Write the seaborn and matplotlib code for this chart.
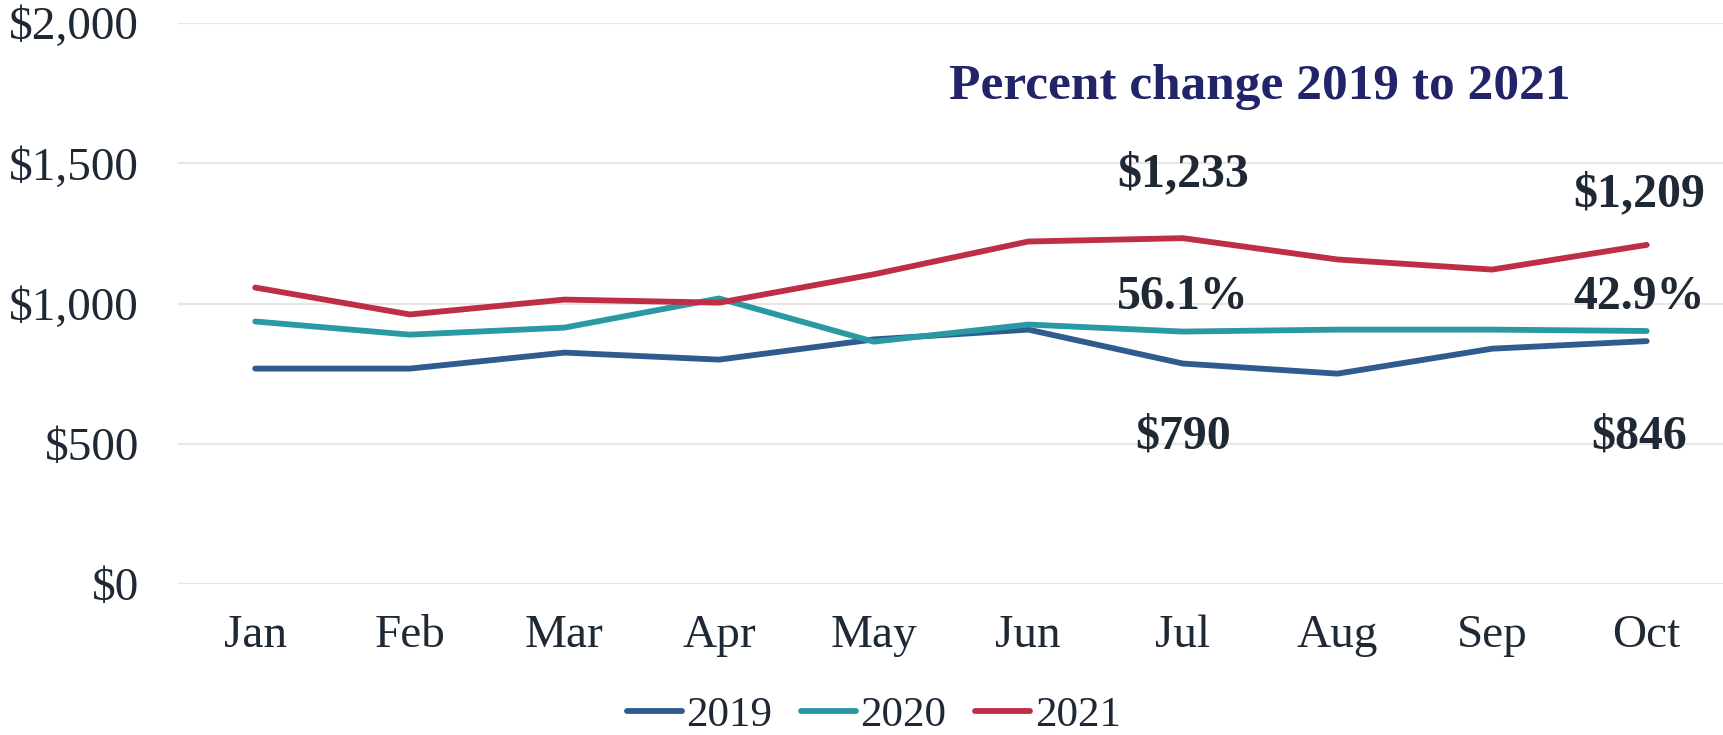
import numpy as np
import pandas as pd
import seaborn as sns
import matplotlib.pyplot as plt
from matplotlib.ticker import FuncFormatter

# monthly values
months = ['Jan', 'Feb', 'Mar', 'Apr', 'May', 'Jun', 'Jul', 'Aug', 'Sep', 'Oct']
vals_2019 = [768, 768, 825, 800, 872, 907, 786, 750, 839, 866]
vals_2020 = [936, 889, 914, 1018, 864, 925, 900, 907, 907, 902]
vals_2021 = [1057, 961, 1014, 1003, 1104, 1221, 1233, 1157, 1121, 1209]
years = ['2019', '2020', '2021']

# annotation texts
jul_labels = ['$1,233', '56.1%', '$790']
oct_labels = ['$1,209', '42.9%', '$846']
title_txt = 'Percent change 2019 to 2021'

colors = {'2019': '#2F5B8F', '2020': '#2A99A2', '2021': '#BE2E46'}
txt_color = '#1E2935'

df = pd.DataFrame({
    'month': months * 3,
    'x': list(range(len(months))) * 3,
    'value': vals_2019 + vals_2020 + vals_2021,
    'year': [y for y in years for _ in months],
})

sns.set_style('white')
plt.rcParams['font.family'] = ['Liberation Serif', 'DejaVu Serif']

fig = plt.figure(figsize=(17.24, 7.35), dpi=100)
ax = fig.add_axes([0.1032, 0.2054, 0.8968, 0.7633])

sns.lineplot(data=df, x='x', y='value', hue='year', palette=colors,
             linewidth=4.2, ax=ax, sort=False)

ax.set_xlim(-0.5, 9.5)
ax.set_ylim(0, 2000)
ax.set_yticks([0, 500, 1000, 1500, 2000])
ax.yaxis.set_major_formatter(FuncFormatter(lambda v, p: '${:,.0f}'.format(v)))
ax.set_xticks(range(len(months)))
ax.set_xticklabels(months)
ax.tick_params(axis='both', labelsize=34, colors=txt_color, length=0)
ax.tick_params(axis='y', pad=28)
ax.tick_params(axis='x', pad=22)
ax.set_xlabel('')
ax.set_ylabel('')
ax.grid(axis='y', color='#E6E6E6', linewidth=1.5)
ax.set_axisbelow(True)
for s in ax.spines.values():
    s.set_visible(False)

# annotations
ax.text(6.5, 1771, title_txt, ha='center', va='center', fontsize=37,
        fontweight='bold', color='#22246A')
for xpos, labs in [(6, jul_labels), (8.95, oct_labels)]:
    ys = [1461 if xpos == 6 else 1389, 1023, 525]
    for yy, t in zip(ys, labs):
        ax.text(xpos, yy, t, ha='center', va='center', fontsize=34.5,
                fontweight='bold', color=txt_color)

leg = ax.legend(loc='center', bbox_to_anchor=(0.45, -0.235), ncol=3,
                frameon=False, fontsize=31, handlelength=1.28,
                handletextpad=0.1, columnspacing=0.67)
for t in leg.get_texts():
    t.set_color(txt_color)
for l in leg.get_lines():
    l.set_linewidth(4.2)

fig.savefig('out.png', dpi=100)
